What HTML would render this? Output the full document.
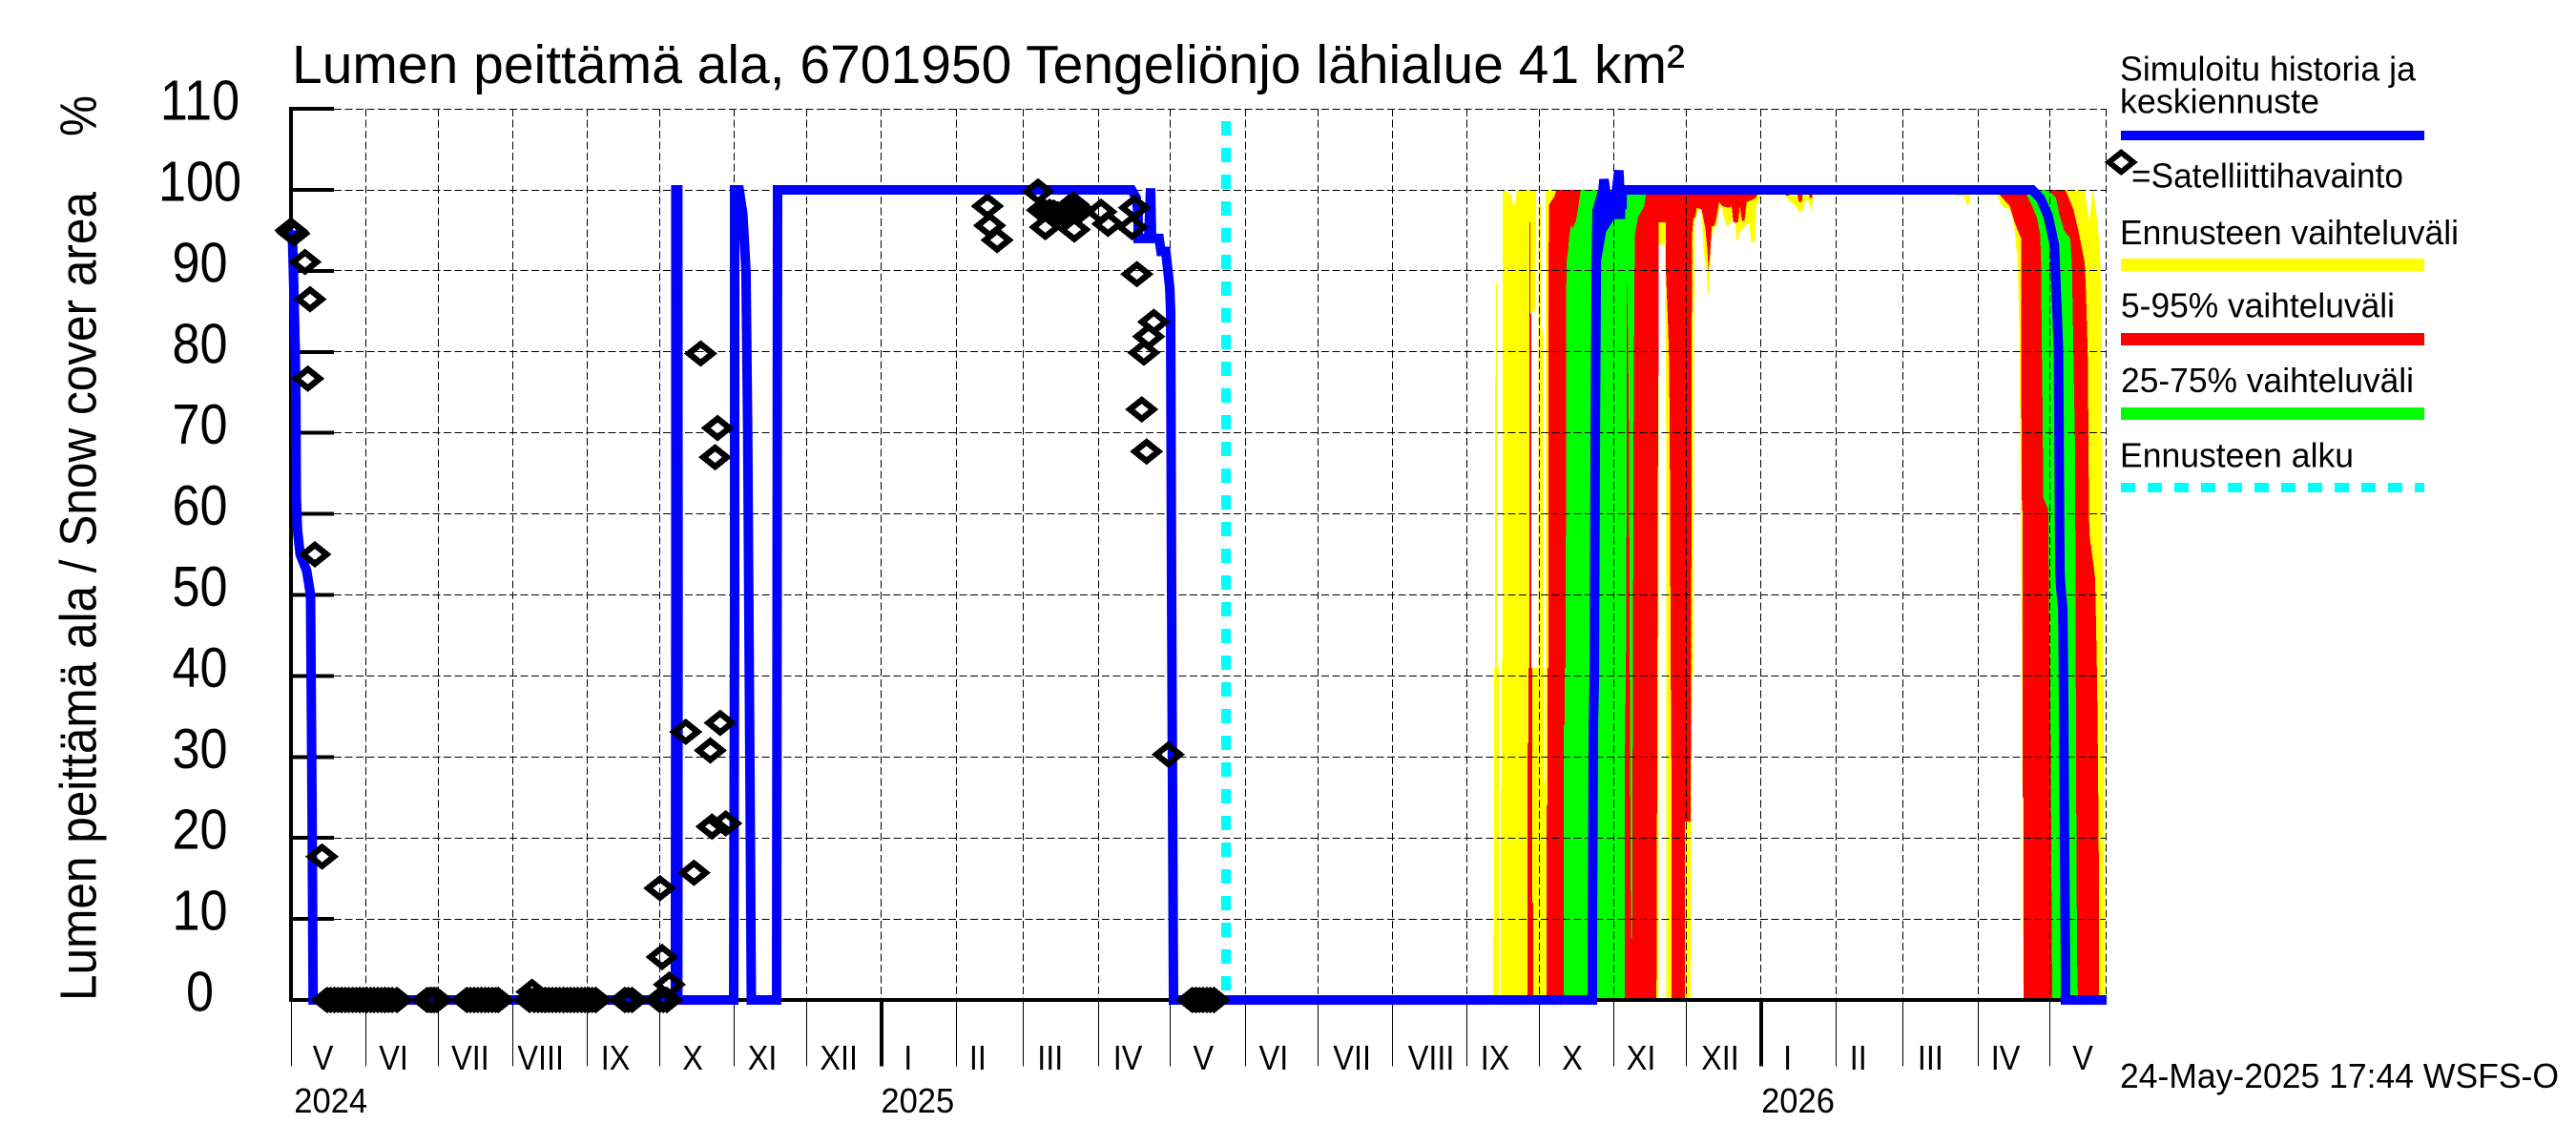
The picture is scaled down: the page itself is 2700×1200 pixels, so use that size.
<!DOCTYPE html>
<html lang="fi">
<head>
<meta charset="utf-8">
<title>Lumen peittämä ala</title>
<style>
html,body{margin:0;padding:0;background:#fff;}
svg{display:block;}
text{font-family:"Liberation Sans",sans-serif;fill:#000;}
</style>
</head>
<body>
<svg id="chart" xmlns="http://www.w3.org/2000/svg" width="2700" height="1200" viewBox="0 0 2700 1200">
  <rect x="0" y="0" width="2700" height="1200" fill="#fff"/>
  <text x="306" y="87" font-size="57" textLength="1460" lengthAdjust="spacingAndGlyphs">Lumen peittämä ala, 6701950 Tengeliönjo lähialue 41 km²</text>
  <text transform="translate(100.5,1049) rotate(-90)" font-size="54" textLength="848" lengthAdjust="spacingAndGlyphs">Lumen peittämä ala / Snow cover area</text>
  <text transform="translate(100.5,143) rotate(-90)" font-size="54" textLength="43" lengthAdjust="spacingAndGlyphs">%</text>

  <g id="bands" shape-rendering="crispEdges"></g>
  <g id="grid" shape-rendering="crispEdges"></g>
  <g id="axes" shape-rendering="crispEdges"></g>
  <g id="axis-labels"></g>
  <g id="series"></g>
  <g id="observations" shape-rendering="crispEdges"></g>

  <g>
    <text x="2222" y="84.3" font-size="36" textLength="310" lengthAdjust="spacingAndGlyphs">Simuloitu historia ja</text>
    <text x="2222" y="118.3" font-size="36" textLength="209" lengthAdjust="spacingAndGlyphs">keskiennuste</text>
    <rect x="2223" y="137" width="318" height="10" fill="#0000ff"/>
    <path shape-rendering="crispEdges" fill-rule="evenodd" fill="#000" d="M2205.8 170L2223.3 156L2240.8 170L2223.3 184ZM2215.3 170L2223.3 176.5L2231.3 170L2223.3 163.5Z"/>
    <text x="2234" y="196.7" font-size="36" textLength="285" lengthAdjust="spacingAndGlyphs">=Satelliittihavainto</text>
    <text x="2222" y="256" font-size="36" textLength="355" lengthAdjust="spacingAndGlyphs">Ennusteen vaihteluväli</text>
    <rect x="2223" y="271" width="318" height="13" fill="#ffff00"/>
    <text x="2223" y="332.7" font-size="36" textLength="287" lengthAdjust="spacingAndGlyphs">5-95% vaihteluväli</text>
    <rect x="2223" y="349" width="318" height="13" fill="#ff0000"/>
    <text x="2223" y="411" font-size="36" textLength="307" lengthAdjust="spacingAndGlyphs">25-75% vaihteluväli</text>
    <rect x="2223" y="427" width="318" height="13" fill="#00ff00"/>
    <text x="2222" y="489.3" font-size="36" textLength="245" lengthAdjust="spacingAndGlyphs">Ennusteen alku</text>
    <line x1="2223" y1="511" x2="2541" y2="511" stroke="#00ffff" stroke-width="10" stroke-dasharray="15 13"/>
  </g>
  <text x="2222" y="1140" font-size="36" textLength="460" lengthAdjust="spacingAndGlyphs">24-May-2025 17:44 WSFS-O</text>
</svg>

<script>
// Days are counted from 1 May 2024; values are percent of snow cover.
var yTicks = [0,10,20,30,40,50,60,70,80,90,100,110];
var monthStartDays = [0,31,61,92,123,153,184,214,245,276,304,335,365,396,426,457,488,518,549,579,610,641,669,700,730];
var chartEndDay = 753;
var monthNames = ['V','VI','VII','VIII','IX','X','XI','XII','I','II','III','IV','V','VI','VII','VIII','IX','X','XI','XII','I','II','III','IV','V'];
var monthLabelDays = [13.3,42.6,74.4,103.6,134.6,166.7,195.6,227.3,256,285,315,347.2,378.6,407.7,440.3,473.1,499.6,531.7,560.2,593,621,650.3,680.3,711.4,743.5];
var yearNames = ['2024','2025','2026'];
var yearLabelDays = [16.5,260,625.3];
var yearTickDays = [245,610];
var forecastStartDay = 388;

var yellowUpperDays = [498.8,498.8,499.2,499.2,499.6,499.6,500,500,500.4,500.4,
  501.1,501.1,501.2,501.2,502,502,502.3,502.3,502.8,502.8,
  506.1,507.2,507.9,508.7,514.3,514.3,515.1,515.1,517.7,517.7,
  518.6,518.6,519.3,519.3,520,520,520.6,520.6,744.3,745.2,
  746.2,747.6,748.9,749.5,750.6,751.3,751.5,751.8,752.2,752.6,752.6];
var yellowUpperPct = [0,8,8,41,41,77,77,88.5,88.5,41,
  41,30,30,0,0,26,26,42,42,100,
  99.5,98.2,98.2,100,100,0,0,41,41,98.3,
  98.3,82.8,82.8,41,41,27,27,100,100,98,
  96,100,98,96,93,83.7,67.7,48,35,3,0];
var yellowLowerDays = [498.8,567.4,567.4,570.1,570.6,570.6,580.8,581.3,582,582.1,
  582.4,584,585.3,586,586.6,587.4,587.9,588.6,589.3,590.6,
  591.5,592.6,593.5,594.5,595.9,597.8,599.2,599.6,600.3,601.1,
  605.1,605.8,607.5,608,609.7,610.1,619,620.3,621.6,622.9,
  624.9,626,627.5,628.6,629.9,631.2,631.5,690.8,690.8,694.1,
  695.4,696.1,697,706.6,710,713.2,715,716.5,717.2,717.6,
  717.9,718.1,718.4,718.5,718.9,752.6];
var yellowLowerPct = [0,0,93.2,93.2,70,0,0,40,40,76.8,
  96,97.4,97.8,93,91.5,90,86.6,89,94,95.5,
  95.4,97.5,98.2,96.6,95.4,96.2,97,94,93.6,94.8,
  96,93.6,93.6,98,99.1,100,100,99.1,98.7,98.4,
  97.8,97.2,97.6,99,98.4,97.2,100,100,99.3,99.2,
  98.2,98,100,100,98,97.6,95.6,91,82,67,
  48,45,31.7,12.7,0,0];
var yellowSliverUpperDays = [514.3,516.7];
var yellowSliverUpperPct = [100,100];
var yellowSliverLowerDays = [514.3,516.3,516.3,516.7];
var yellowSliverLowerPct = [85,85,92,92];

var redUpperDays = [513.1,513.1,513.4,513.4,513.9,513.9,514.3,514.3,514.7,514.7,
  515.1,515.1,515.5,515.5,521,521,521.4,521.4,521.7,521.9,
  522.6,523.9,525.2,736.3,739.6,741.6,744.3,744.9,745.6,746,
  746.2,748.2,748.6,749,749.4,749.8,750.2,750.2];
var redUpperPct = [0,31.7,31.7,41,41,96,96,84.7,84.7,41,
  41,12,12,0,0,24,24,41,41,98,
  98.5,99,100,100,97.6,95,91,86.6,79,62,
  57.6,53,52,46,39.6,29,14.8,0];
var redLowerDays = [513.1,566.6,567,567.1,567.4,567.4,570.5,570.5,570.9,571.4,
  571.8,572.1,572.5,572.9,572.9,578.4,578.4,580.8,581.1,581.3,
  582,582.7,583.3,585.3,586,586.9,587.7,588.2,589,589.5,
  590.6,591.5,592.6,593.9,596.5,597.8,598.5,600.5,601.1,602.1,
  603.1,604,605.8,607.7,609.7,619.6,620.3,621.6,622.3,624.9,
  625.6,626.9,627.5,629.5,630.2,631.2,631.5,689.5,690.8,694.8,
  695.2,708.6,713.2,715.2,716.5,717.9,718.1,718.5,718.5,718.9,
  718.9,750.2];
var redLowerPct = [0,0,41,60,78,96,96,90,87,83,
  79,70,41,24,0,0,22,22,60,94.4,
  96.6,96.6,97.8,97.6,96.6,95.2,92.6,90,92.8,95.5,
  95.5,96.6,98.5,98,97.8,98,96,96,98,96.2,
  96.2,98.5,98.7,99,100,100,99.3,99.3,100,100,
  98.5,98.5,100,100,99,99,100,100,99.4,99.4,
  100,99.5,98,96,95,94,62.6,60,25,25,
  0,0];

var greenUpperDays = [528.1,528.1,528.5,528.5,528.9,529.2,529.9,530.5,531.2,531.8,
  533.2,534.2,535.1,729.1,732.4,733.7,735.7,738.3,739,739.6,
  740.3,740.7,741.1,741.5];
var greenUpperPct = [0,34,34,41,41,90.9,92.5,94.5,95.7,95.2,
  96.2,98,100,100,99,97,95,94,90.7,80,
  68,28.9,5.6,0];
var greenLowerDays = [528.1,553.5,553.5,553.9,554.3,554.3,554.7,555.2,555.5,555.7,
  556,556.5,556.8,557.1,557.3,557.6,558.9,561.5,562.2,564.2,
  719.2,722.5,724.5,725.8,726.2,726.4,726.8,727.1,729.1,729.5,
  730,730.4,730.8,741.5];
var greenLowerPct = [0,0,30,41,70,88.7,83.7,70,41,26.4,
  7.6,7.6,41,70,81,94.4,96.6,98,99.4,100,
  100,98,96.5,94.5,90.7,82.7,72.9,62,60.6,48,
  38,18,0,0];

var simulatedDays = [0.5,1,1.8,2,2.2,2.7,3.8,6.5,8.1,8.7,
  9.2,159.5,159.7,159.7,160.5,160.6,160.5,183.7,184.1,184.1,
  186,187.5,188.8,189.5,190.5,191,201.5,201.9,348.8,350.7,
  351.5,351.5,353.1,355.9,356.7,357.1,360.2,361,363,364.6,
  365,365.4,366.2,540,540,540.4,540.8,541.2,541.5,541.6,
  542,544.4,544.8,546.4,549,551,551.6,552.3,552.3,722.5,
  725.8,729.1,731.7,733.4,733.7,734,734.4,735.2,735.5,735.9,
  736.3,736.3,753.4];
var simulatedPct = [95,90,80,74,62,58,55,53,50,25,
  0,0,50,100,100,50,0,0,50,100,
  100,97,90,70,25,0,0,100,100,99,
  97,94,94,94,100.2,94,94,92.4,92.4,88,
  85,50,0,0,7,34,40,70,84,91,
  97.4,100,101.3,98,97.5,102.4,98.2,98.2,100,100,
  99,96.8,93.2,80.3,66.5,52.8,50.8,48.3,38.4,19.8,
  4.1,0,0];

// Where the simulated curve oscillates around the start of winter 2025 it forms a solid block.
var simulatedBlockUpperDays = [540,540,543.1,544.4,553.6];
var simulatedBlockUpperPct = [91.1,97.6,98.7,100,99.3];
var simulatedBlockLowerDays = [540,543.5,545.7,549,553.6,553.6];
var simulatedBlockLowerPct = [91.1,91.1,94.8,96.4,96.4,99.3];

var observationDays = [0,0.6,1.2,5.8,7.9,7,9.9,12.9,
  15,16.5,18,19.5,21,22.5,24,25.5,27,28.5,
  30,31.5,33,34.5,36,37.5,39,40.5,42,44,
  56.5,57.5,58.4,59.4,60.5,
  73,74.5,76,77.5,79,80.5,82,83.5,85,86,
  99,100,101,102.5,104,105.5,107,108.5,110,111.5,
  113,114.5,116,117.5,119,120.5,122,123.5,125,126.5,
  138.5,140,141.5,153,154.5,156,
  153.1,154,157,163.8,167.2,170,174,174.7,176,177,178.1,180.4,
  289,289.9,293,310,311.8,313,314.8,318,322,323.5,324.6,325,325.8,327,
  316.5,320,321.5,324,326.5,
  336.1,339,349,350,351,353,353.9,355,355.9,358,364,
  374,375.5,377,378.5,380,381.5,383];
var observationPct = [95,94.8,94.6,91.1,86.5,76.7,55,17.7,
  0,0,0,0,0,0,0,0,0,0,
  0,0,0,0,0,0,0,0,0,0,
  0,0,0,0,0,
  0,0,0,0,0,0,0,0,0,0,
  0,1,0,0,0,0,0,0,0,0,
  0,0,0,0,0,0,0,0,0,0,
  0,0,0,0,0,0,
  13.8,5.3,1.9,33.1,15.7,79.8,30.8,21.4,67,70.6,34.2,21.8,
  98,95.6,93.8,99.8,97.5,95.4,97.3,97,97.2,98,98.2,95.1,97.8,97.4,
  97.2,97.1,97.5,97.6,97.6,
  97.3,95.8,95.4,97.8,89.6,72.9,79.9,67.7,81.9,83.7,30.3,
  0,0,0,0,0,0,0];

var SVG_NS = 'http://www.w3.org/2000/svg';
function xOf(day) { return 305 + 2.526 * day; }
function yOf(pct) { return 1048 - 8.49 * pct; }
function snap(v) { return Math.floor(v) + 0.5; }
function make(tag, parentId) {
  var el = document.createElementNS(SVG_NS, tag);
  document.getElementById(parentId).appendChild(el);
  return el;
}
function bandPoints(upDays, upPct, lowDays, lowPct) {
  var pts = [];
  for (var i = 0; i < upDays.length; i++) {
    pts.push(xOf(upDays[i]).toFixed(1) + ',' + yOf(upPct[i]).toFixed(1));
  }
  for (var j = lowDays.length - 1; j >= 0; j--) {
    pts.push(xOf(lowDays[j]).toFixed(1) + ',' + yOf(lowPct[j]).toFixed(1));
  }
  return pts.join(' ');
}

// Forecast bands
var yellowBand = make('polygon', 'bands');


yellowBand.setAttribute('fill', '#ffff00');
yellowBand.setAttribute('points', bandPoints(yellowUpperDays, yellowUpperPct, yellowLowerDays, yellowLowerPct));

var yellowSliver = make('polygon', 'bands');


yellowSliver.setAttribute('fill', '#ffff00');
yellowSliver.setAttribute('points', bandPoints(yellowSliverUpperDays, yellowSliverUpperPct, yellowSliverLowerDays, yellowSliverLowerPct));

var redBand = make('polygon', 'bands');


redBand.setAttribute('fill', '#ff0000');
redBand.setAttribute('points', bandPoints(redUpperDays, redUpperPct, redLowerDays, redLowerPct));

var greenBand = make('polygon', 'bands');


greenBand.setAttribute('fill', '#00ff00');
greenBand.setAttribute('points', bandPoints(greenUpperDays, greenUpperPct, greenLowerDays, greenLowerPct));

// Grid
yTicks.forEach(function (t) {
  if (t === 0) { return; }
  var g = make('line', 'grid');
  
  
  g.setAttribute('x1', 350);
  g.setAttribute('x2', xOf(chartEndDay));
  g.setAttribute('y1', snap(yOf(t)));
  g.setAttribute('y2', snap(yOf(t)));
  g.setAttribute('stroke', '#000');
  g.setAttribute('stroke-width', '1');
  g.setAttribute('stroke-dasharray', '8 3.5');
});
monthStartDays.concat([chartEndDay]).forEach(function (d) {
  if (d === 0) { return; }
  var g = make('line', 'grid');
  
  
  g.setAttribute('x1', snap(xOf(d)));
  g.setAttribute('x2', snap(xOf(d)));
  g.setAttribute('y1', yOf(110));
  g.setAttribute('y2', yOf(0));
  g.setAttribute('stroke', '#000');
  g.setAttribute('stroke-width', '1');
  g.setAttribute('stroke-dasharray', '8 3.5');
});

// Axes
var yAxis = make('line', 'axes');


yAxis.setAttribute('x1', 305);
yAxis.setAttribute('x2', 305);
yAxis.setAttribute('y1', yOf(110) - 2);
yAxis.setAttribute('y2', yOf(0) + 2);
yAxis.setAttribute('stroke', '#000');
yAxis.setAttribute('stroke-width', '4');

var xAxis = make('line', 'axes');


xAxis.setAttribute('x1', 305);
xAxis.setAttribute('x2', xOf(chartEndDay));
xAxis.setAttribute('y1', yOf(0));
xAxis.setAttribute('y2', yOf(0));
xAxis.setAttribute('stroke', '#000');
xAxis.setAttribute('stroke-width', '4');

yTicks.forEach(function (t) {
  var tick = make('line', 'axes');
  
  
  tick.setAttribute('x1', 305);
  tick.setAttribute('x2', 350);
  tick.setAttribute('y1', yOf(t));
  tick.setAttribute('y2', yOf(t));
  tick.setAttribute('stroke', '#000');
  tick.setAttribute('stroke-width', '4');

  var label = make('text', 'axis-labels');
  
  
  label.setAttribute('text-anchor', 'middle');
  label.setAttribute('font-size', '59');
  label.setAttribute('transform', 'translate(209.5,' + (yOf(t) + 11.5) + ') scale(0.885,1)');
  label.textContent = String(t);
});

monthStartDays.forEach(function (d) {
  var tick = make('line', 'axes');
  
  
  tick.setAttribute('x1', snap(xOf(d)));
  tick.setAttribute('x2', snap(xOf(d)));
  tick.setAttribute('y1', yOf(0));
  tick.setAttribute('y2', 1117.5);
  tick.setAttribute('stroke', '#000');
  tick.setAttribute('stroke-width', '1');
});
yearTickDays.forEach(function (d) {
  var tick = make('line', 'axes');
  
  
  tick.setAttribute('x1', xOf(d));
  tick.setAttribute('x2', xOf(d));
  tick.setAttribute('y1', yOf(0));
  tick.setAttribute('y2', 1117.5);
  tick.setAttribute('stroke', '#000');
  tick.setAttribute('stroke-width', '4');
});
monthNames.forEach(function (name, i) {
  var label = make('text', 'axis-labels');
  
  
  label.setAttribute('text-anchor', 'middle');
  label.setAttribute('font-size', '36');
  label.setAttribute('transform', 'translate(' + xOf(monthLabelDays[i]).toFixed(1) + ',1121) scale(0.9,1)');
  label.textContent = name;
});
yearNames.forEach(function (name, i) {
  var label = make('text', 'axis-labels');
  
  
  label.setAttribute('text-anchor', 'middle');
  label.setAttribute('font-size', '36');
  label.setAttribute('transform', 'translate(' + xOf(yearLabelDays[i]).toFixed(1) + ',1166) scale(0.96,1)');
  label.textContent = name;
});

// Forecast start line
var startLine = make('line', 'series');


startLine.setAttribute('x1', xOf(forecastStartDay));
startLine.setAttribute('x2', xOf(forecastStartDay));
startLine.setAttribute('y1', 127);
startLine.setAttribute('y2', 1043);
startLine.setAttribute('stroke', '#00ffff');
startLine.setAttribute('stroke-width', '10');
startLine.setAttribute('stroke-dasharray', '15 13');
startLine.setAttribute('shape-rendering', 'crispEdges');

// Simulated history and mean forecast
var simBlock = make('polygon', 'series');


simBlock.setAttribute('fill', '#0000ff');
simBlock.setAttribute('points', bandPoints(simulatedBlockUpperDays, simulatedBlockUpperPct, simulatedBlockLowerDays, simulatedBlockLowerPct));

var simPts = simulatedDays.map(function (d, i) {
  return xOf(d).toFixed(1) + ',' + yOf(simulatedPct[i]).toFixed(1);
}).join(' ');
var simLine = make('polyline', 'series');


simLine.setAttribute('points', simPts);
simLine.setAttribute('fill', 'none');
simLine.setAttribute('stroke', '#0000ff');
simLine.setAttribute('stroke-width', '10');
simLine.setAttribute('stroke-linejoin', 'miter');
simLine.setAttribute('stroke-miterlimit', '2');

// Satellite observations
observationDays.forEach(function (d, i) {
  var cx = xOf(d);
  var cy = yOf(observationPct[i]);
  var m = make('path', 'observations');
  
  
  m.setAttribute('fill', '#000');
  m.setAttribute('fill-rule', 'evenodd');
  m.setAttribute('d',
    'M' + (cx - 17.5) + ' ' + cy + 'L' + cx + ' ' + (cy - 14) + 'L' + (cx + 17.5) + ' ' + cy + 'L' + cx + ' ' + (cy + 14) + 'Z' +
    'M' + (cx - 7.2) + ' ' + cy + 'L' + cx + ' ' + (cy + 5.8) + 'L' + (cx + 7.2) + ' ' + cy + 'L' + cx + ' ' + (cy - 5.8) + 'Z');
});
</script>
</body>
</html>
